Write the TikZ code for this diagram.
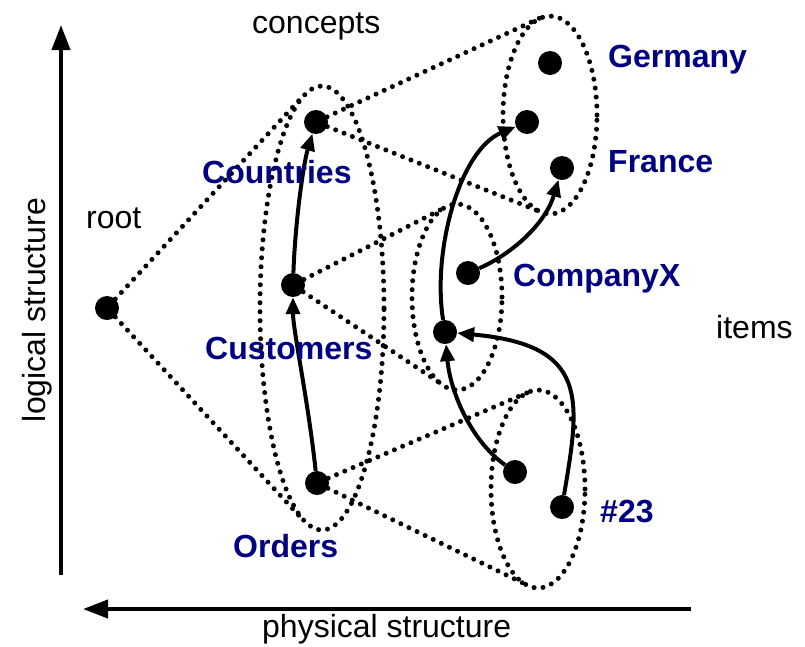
\documentclass[tikz,border=0pt]{standalone}
\usepackage{fontspec}
\setmainfont{Liberation Sans}
\usetikzlibrary{arrows.meta,shapes.geometric}
\definecolor{labelblue}{RGB}{0,0,130}
\begin{document}
\begin{tikzpicture}[x=1pt,y=-1pt,
  dotline/.style={line width=5pt, dash pattern=on 0pt off 9pt, line cap=round},
  item/.style={circle, fill=black, inner sep=0pt, minimum size=24pt},
  setshape/.style={ellipse, draw, dotline, inner sep=0pt},
  link/.style={line width=4pt, -{Triangle[length=17pt,width=14pt]}},
  axisarrow/.style={line width=4pt, -{Triangle[length=25pt,width=18pt]}},
  txt/.style={font=\fontsize{32pt}{38pt}\selectfont, inner sep=0pt, anchor=base west},
  tag/.style={txt, font=\fontsize{32pt}{38pt}\selectfont\bfseries, text=labelblue}]
\useasboundingbox (0,0) rectangle (805,646);

% axes
\coordinate (vbot) at (61,575);
\coordinate (vtop) at (61,25);
\coordinate (hright) at (691,609);
\coordinate (hleft) at (83,609);
\draw[axisarrow] (vbot) -- (vtop);
\draw[axisarrow] (hright) -- (hleft);

% sets (dotted ellipses)
\node[setshape, minimum width=124pt, minimum height=444pt] (concepts) at (322,308) {};
\node[setshape, minimum width=94pt, minimum height=198pt] (germanyset) at (550,115) {};
\node[setshape, minimum width=90pt, minimum height=186pt] (companyset) at (457,297) {};
\node[setshape, minimum width=94pt, minimum height=198pt] (orderset) at (538,489) {};

% elements
\node[item] (root) at (107,308) {};
\node[item] (countries) at (316,122) {};
\node[item] (customers) at (293,285) {};
\node[item] (orders) at (317,483) {};
\node[item] (g1) at (550,63) {};
\node[item] (g2) at (527,122) {};
\node[item] (g3) at (562,168) {};
\node[item] (c1) at (468,273) {};
\node[item] (c2) at (445,332) {};
\node[item] (o1) at (515,472) {};
\node[item] (o2) at (562,507) {};

% tangent points of the cones
\coordinate (ct) at (304,95);
\coordinate (cb) at (304,521);
\coordinate (gt) at (540,18);
\coordinate (gb) at (541,212);
\coordinate (xt) at (446,207);
\coordinate (xb) at (443,385);
\coordinate (ot) at (529,392);
\coordinate (ob) at (527,585);

\draw[dotline] (root) -- (ct);
\draw[dotline] (root) -- (cb);
\draw[dotline] (countries) -- (gt);
\draw[dotline] (countries) -- (gb);
\draw[dotline] (customers) -- (xt);
\draw[dotline] (customers) -- (xb);
\draw[dotline] (orders) -- (ot);
\draw[dotline] (orders) -- (ob);

% references
\draw[link] (orders) .. controls (308,400) and (293,330) .. (customers);
\draw[link] (customers) .. controls (295,225) and (303,165) .. (countries);
\draw[link] (c2) .. controls (432,250) and (460,150) .. (g2);
\draw[link] (c1) .. controls (510,255) and (545,225) .. (g3);
\draw[link] (o1) .. controls (470,440) and (450,390) .. (c2);
\draw[link] (o2) .. controls (580,400) and (590,345) .. (c2);

% labels
\node[txt] (lconcepts) at (252,33) {concepts};
\node[txt] (lroot) at (86,228) {root};
\node[txt] (litems) at (716,338) {items};
\node[txt] (lphys) at (262,637) {physical structure};
\node[font=\fontsize{32pt}{38pt}\selectfont, inner sep=0pt, rotate=90] (llog) at (37,310) {logical structure};
\node[tag] (lcountries) at (202,183) {Countries};
\node[tag] (lcustomers) at (205,359) {Customers};
\node[tag] (lorders) at (233,557) {Orders};
\node[tag] (lgermany) at (608,67) {Germany};
\node[tag] (lfrance) at (608,172) {France};
\node[tag] (lcompany) at (513,286) {CompanyX};
\node[tag] (l23) at (600,522) {\#23};
\end{tikzpicture}
\end{document}
